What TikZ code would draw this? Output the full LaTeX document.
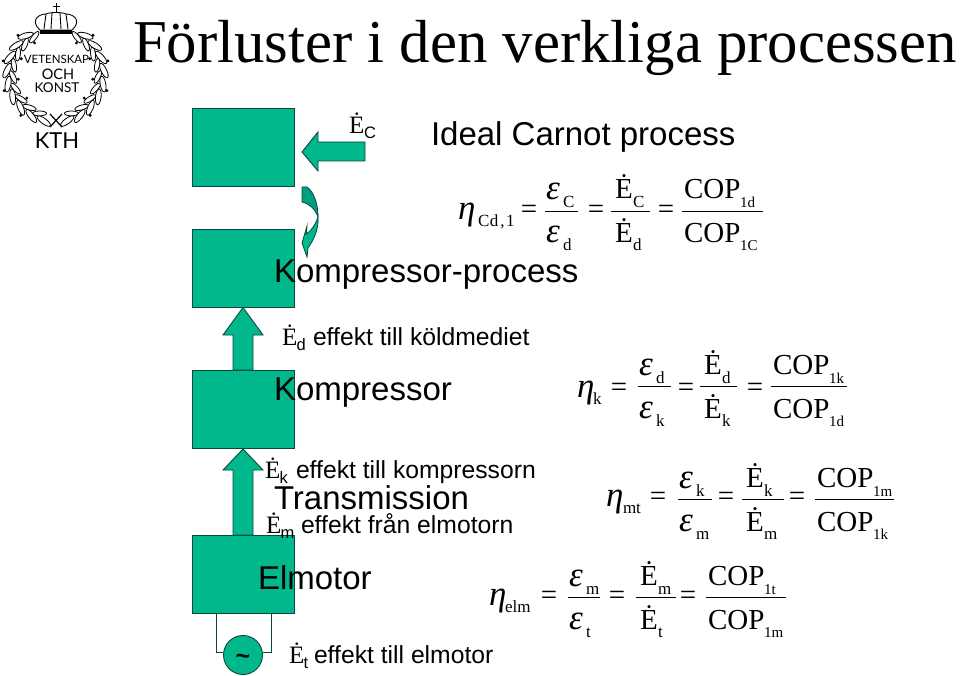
\documentclass[tikz,border=0pt]{standalone}
\usepackage{fontspec}
\setmainfont{Liberation Serif}
\newfontfamily\arialf{Liberation Sans}
\newfontfamily\logof{Lato}
\definecolor{kthgreen}{RGB}{0,184,140}
\definecolor{kthdark}{RGB}{0,158,124}
\definecolor{kthline}{RGB}{10,72,62}
\newcount\tcnt
\tikzset{
  txt/.style={anchor=base west,inner sep=0pt,outer sep=0pt},
  ctxt/.style={anchor=base,inner sep=0pt,outer sep=0pt},
  greenbox/.style={fill=kthgreen,draw=kthline,line width=0.9pt},
  fracbar/.style={line width=0.9pt,black},
  leaf/.style={fill=white,draw=black,line width=0.8pt},
}
\newcommand{\putT}[4][txt]{\global\advance\tcnt by 1 \node[#1] (t\the\tcnt) at (#2,#3) {#4};}
\newcommand{\bigf}{\fontsize{33}{36}\selectfont\arialf}
\newcommand{\sml}{\fontsize{24.7}{28}\selectfont\arialf}
\newcommand{\Edot}{\fontsize{25}{28}\selectfont\rmfamily\.{E}}
\newcommand{\ssub}{\fontsize{16.5}{20}\selectfont\arialf}
\newcommand{\Lbl}[5]{\putT{#1}{#2}{\Edot}\putT{#1+14.5}{#2+5}{\ssub #3}\putT{#4}{#2}{\sml #5}}
\newcommand{\mainf}{\fontsize{29}{32}\selectfont\rmfamily}
\newcommand{\grkf}{\fontsize{35}{38}\selectfont\rmfamily\itshape}
\newcommand{\subf}{\fontsize{17}{20}\selectfont\rmfamily}
\newcommand{\copsub}{\fontsize{15}{18}\selectfont\rmfamily}
\newcommand{\EqSign}[2]{\putT[ctxt]{#1}{#2+7}{\mainf =}}
\newcommand{\EtaS}[4]{\putT{#1}{#2+8}{\grkf η}\putT{#4}{#2+15}{\subf #3}}
\newcommand{\FBar}[3]{\draw[fracbar] (#1,#3) -- (#2,#3);}
\newcommand{\EpsF}[5]{\FBar{#1}{#2}{#3}%
  \putT{#1+1}{#3-11}{\grkf ε}\putT{#1+18}{#3-3}{\subf #4}%
  \putT{#1+1}{#3+32}{\grkf ε}\putT{#1+18}{#3+40}{\subf #5}}
\newcommand{\EnF}[5]{\FBar{#1}{#2}{#3}%
  \putT{#1+4}{#3-12}{\mainf\.{E}}\putT{#1+22}{#3-3}{\subf #4}%
  \putT{#1+4}{#3+32}{\mainf\.{E}}\putT{#1+22}{#3+40}{\subf #5}}
\newcommand{\CopF}[5]{\FBar{#1}{#2}{#3}%
  \putT{#1+2}{#3-12}{\mainf COP}\putT{#1+58}{#3-3}{\copsub #4}%
  \putT{#1+2}{#3+32}{\mainf COP}\putT{#1+58}{#3+40}{\copsub #5}}
\begin{document}
\begin{tikzpicture}[x=1pt,y=-1pt]
\useasboundingbox (0,0) rectangle (960,676);
% logo: wreath
\foreach \t in {14,30,...,146}{
  \begin{scope}[shift={({55.5+48.5*sin(\t)},{74+48.5*cos(\t)})},rotate=\t+22]
    \draw[leaf] (0,0) ellipse (8 and 2.8);
  \end{scope}
  \begin{scope}[shift={({55.5+42.5*sin(\t+8)},{74+42.5*cos(\t+8)})},rotate=\t-14]
    \draw[leaf] (0,0) ellipse (7 and 2.4);
  \end{scope}
  \begin{scope}[shift={({55.5-48.5*sin(\t)},{74+48.5*cos(\t)})},rotate=-\t-22]
    \draw[leaf] (0,0) ellipse (8 and 2.8);
  \end{scope}
  \begin{scope}[shift={({55.5-42.5*sin(\t+8)},{74+42.5*cos(\t+8)})},rotate=-\t+14]
    \draw[leaf] (0,0) ellipse (7 and 2.4);
  \end{scope}
}
\foreach \t in {40,72,104,136}{
  \fill[black] ({55.5+54*sin(\t)},{74+54*cos(\t)}) circle (1.6);
  \fill[black] ({55.5-54*sin(\t)},{74+54*cos(\t)}) circle (1.6);
  \fill[black] ({55.5+37.5*sin(\t+10)},{74+37.5*cos(\t+10)}) circle (1.6);
  \fill[black] ({55.5-37.5*sin(\t+10)},{74+37.5*cos(\t+10)}) circle (1.6);
}
\draw[line width=1.2pt] (50,114) -- (62,127) (62,114) -- (50,127);
% logo: crown
\draw[fill=white,line width=0.9pt] (40,30) .. controls (30,21) and (38,14) .. (46,14) .. controls (50,12) and (62,12) .. (66,14) .. controls (74,14) and (82,21) .. (72,30) -- cycle;
\draw[line width=0.9pt] (46,14) -- (44,29) (52,13) -- (51,29) (60,13) -- (61,29) (66,14) -- (68,29);
\fill[black] (40,30) rectangle (72,34);
\draw[line width=1.4pt] (56.5,3) -- (56.5,12) (53,6.5) -- (60,6.5);
\putT[ctxt]{56.5}{64}{\fontsize{11.5}{14}\selectfont\logof VETENSKAP}
\putT[ctxt]{58}{80}{\fontsize{14.5}{16}\selectfont\logof OCH}
\putT[ctxt]{57}{93}{\fontsize{13.5}{16}\selectfont\logof KONST}
\putT[ctxt]{57}{149}{\fontsize{22}{24}\selectfont\logof KTH}
% title
\putT{133}{63}{\fontsize{60.8}{64}\selectfont\rmfamily Förluster i den verkliga processen}
% boxes
\node[greenbox,minimum width=102pt,minimum height=78pt,inner sep=0pt,anchor=north west] (b1) at (192,108) {};
\node[greenbox,minimum width=102pt,minimum height=78pt,inner sep=0pt,anchor=north west] (b2) at (192,229) {};
\node[greenbox,minimum width=102pt,minimum height=78pt,inner sep=0pt,anchor=north west] (b3) at (192,370) {};
\node[greenbox,minimum width=102pt,minimum height=78pt,inner sep=0pt,anchor=north west] (b4) at (192,535) {};
% block arrows
\draw[greenbox] (243,307.5) -- (263,335) -- (253,335) -- (253,370) -- (233,370) -- (233,335) -- (223,335) -- cycle;
\draw[greenbox] (243,449) -- (263,470) -- (253,470) -- (253,535) -- (233,535) -- (233,470) -- (223,470) -- cycle;
\draw[greenbox] (302,152) -- (318,132) -- (318,142) -- (365,142) -- (365,161) -- (318,161) -- (318,171) -- cycle;
% curved arrow
\draw[fill=kthdark,draw=kthline,line width=0.8pt] (302,187) -- (307,187) .. controls (314,192) and (318,204) .. (318,217) .. controls (315,209) and (310,204) .. (302,202) -- cycle;
\draw[greenbox,line width=0.8pt] (318,217) .. controls (319,228) and (314,240) .. (308,248) -- (307,257) -- (302,243) -- (307,226) -- (306.5,234) .. controls (311,231) and (316,224) .. (318,217) -- cycle;
% source
\node[greenbox,circle,minimum size=39pt,inner sep=0pt] (src) at (243,655) {};
\coordinate (wl) at (216,613);
\coordinate (wr) at (271,613);
\draw[kthline,line width=0.9pt] (wl) |- (src.west |- 0,652);
\draw[kthline,line width=0.9pt] (wr) |- (src.east |- 0,652);
\putT[ctxt]{243}{664}{\fontsize{25}{28}\selectfont\arialf\bfseries\char`\~}
% headings
\putT{431}{146}{\bigf Ideal Carnot process}
\putT{274}{282}{\bigf Kompressor-process}
\putT{274}{400}{\bigf Kompressor}
\putT{274}{509}{\bigf Transmission}
\putT{258}{589}{\bigf Elmotor}
% energy labels
\putT{349}{134}{\Edot}\putT{364}{139}{\ssub C}
\Lbl{282}{345}{d}{313}{effekt till köldmediet}
\Lbl{265}{478}{k}{296}{effekt till kompressorn}
\Lbl{266}{533}{m}{301}{effekt från elmotorn}
\Lbl{289}{663}{t}{314}{effekt till elmotor}
% eq 1
\EtaS{458}{212}{C\kern0.5pt d\kern2pt,\kern1.5pt 1}{478}
\EqSign{529}{212}
\EpsF{545}{578}{211}{C}{d}
\EqSign{596}{212}
\EnF{611}{650}{211}{C}{d}
\EqSign{666}{212}
\CopF{682}{763}{211}{1d}{1C}
% eq 2
\EtaS{577}{389}{k}{593}
\EqSign{619}{389}
\EpsF{638}{671}{386}{d}{k}
\EqSign{686}{389}
\EnF{700}{737}{386}{d}{k}
\EqSign{755}{389}
\CopF{771}{847}{386}{1k}{1d}
% eq 3
\EtaS{606}{498}{mt}{623}
\EqSign{658}{498}
\EpsF{678}{712}{499}{k}{m}
\EqSign{726}{498}
\EnF{742}{784}{499}{k}{m}
\EqSign{797}{498}
\CopF{815}{894}{499}{1m}{1k}
% eq 4
\EtaS{489}{597}{elm}{505}
\EqSign{549}{597}
\EpsF{568}{600}{597}{m}{t}
\EqSign{617}{597}
\EnF{636}{676}{597}{m}{t}
\EqSign{688}{597}
\CopF{706}{786}{597}{1t}{1m}
\end{tikzpicture}
\end{document}
